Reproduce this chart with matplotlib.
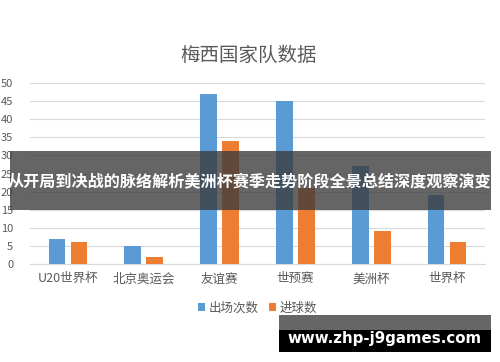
#! /usr/bin/env python3

import numpy as np
import matplotlib
matplotlib.use('Agg')
import matplotlib.pyplot as plt
from matplotlib.patches import Rectangle

plt.rcParams['font.family'] = ['Noto Sans CJK SC', 'DejaVu Sans']

# data
categories = ['U20世界杯', '北京奥运会', '友谊赛', '世预赛', '美洲杯', '世界杯']
appearances = [7, 5, 47, 45, 27, 19]
goals = [6, 2, 34, 21, 9, 6]
series_names = ['出场次数', '进球数']
yticks = [0, 5, 10, 15, 20, 25, 30, 35, 40, 45, 50]

blue = '#5B9BD5'
orange = '#ED7D31'
grey_text = '#595959'

fig = plt.figure(figsize=(5, 3.62), dpi=100)
ax = fig.add_axes([0.06, 0.2707, 0.91, 0.5])

x = np.arange(len(categories))
w = 0.22
ax.bar(x - 0.145, appearances, w, color=blue, label=series_names[0], zorder=3)
ax.bar(x + 0.145, goals, w, color=orange, label=series_names[1], zorder=3)

ax.set_xlim(-0.5, len(categories) - 0.5)
ax.set_ylim(0, 50)
ax.set_yticks(yticks)
ax.set_xticks(x)
ax.set_xticklabels(categories, fontsize=9, color=grey_text)
ax.tick_params(axis='y', labelsize=8, colors=grey_text, length=0, pad=12)
ax.tick_params(axis='x', length=0, pad=6)
ax.grid(axis='y', color='#D9D9D9', linewidth=0.8, zorder=0)
for s in ['top', 'right', 'left']:
    ax.spines[s].set_visible(False)
ax.spines['bottom'].set_color('#D9D9D9')

fig.text(0.498, 1 - 55 / 362, '梅西国家队数据', ha='center', va='center',
         fontsize=14, color=grey_text)

ax.legend(loc='center', bbox_to_anchor=(0.5, -0.245), ncol=2,
          frameon=False, fontsize=9, handlelength=0.6, handleheight=0.6,
          columnspacing=0.8, handletextpad=0.3, labelcolor=grey_text)

# overlay banner across the middle
fig.patches.append(Rectangle((10 / 500, 1 - 210 / 362), 481 / 500, 59 / 362,
                             transform=fig.transFigure, facecolor='#3a3a3a',
                             alpha=0.78, zorder=10))
fig.text(0.5, 1 - 181 / 362, '从开局到决战的脉络解析美洲杯赛季走势阶段全景总结深度观察演变',
         ha='center', va='center', fontsize=11.6, fontweight='bold',
         color='white', zorder=11)

# watermark box
fig.patches.append(Rectangle((279 / 500, 1 - 330 / 362), 212 / 500, 15 / 362,
                             transform=fig.transFigure, facecolor='#666666', zorder=10))
fig.patches.append(Rectangle((279 / 500, 1 - 352 / 362), 212 / 500, 22 / 362,
                             transform=fig.transFigure, facecolor='black', zorder=10))
fig.text(385 / 500, 1 - 339 / 362, 'www.zhp-j9games.com', ha='center', va='center',
         fontsize=10.8, fontweight='bold', color='white',
         family='DejaVu Sans', zorder=11)

fig.savefig('out.png', dpi=100)
